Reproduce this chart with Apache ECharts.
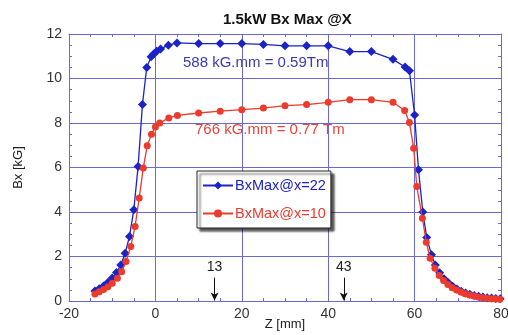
<!DOCTYPE html>
<html>
<head>
<meta charset="utf-8">
<script src="https://cdn.jsdelivr.net/npm/echarts@6/dist/echarts.min.js"></script>
<style>html,body{margin:0;padding:0;background:#fff}#c{width:508px;height:335px}</style>
</head>
<body>
<div id="c"></div>
<script>
// Blue series: BxMax@x=22
var blueZ = [-14,-13,-12,-11,-10,-9,-8,-7,-6,-5,-4,-3,-2,-1,-0.4,0.3,1.2,3,5,10,15,20,25,30,35,40,45,50,55,57.8,58.8,60,60.9,61.9,62.8,63.9,64.8,65.8,66.8,67.8,68.8,69.8,70.8,71.8,72.8,73.8,74.8,75.8,76.8,77.8,78.8,79.8];
var blueB = [0.45,0.55,0.67,0.83,1.03,1.28,1.62,2.15,2.9,4.1,6.05,8.83,10.5,10.98,11.1,11.23,11.33,11.5,11.6,11.57,11.57,11.57,11.53,11.47,11.47,11.47,11.21,11.21,10.86,10.52,10.35,8.36,5.9,4.0,2.85,2.08,1.62,1.27,1.0,0.82,0.66,0.54,0.44,0.36,0.3,0.25,0.21,0.18,0.15,0.13,0.11,0.1];
// Red series: BxMax@x=10
var redZ = [-14,-13,-12,-11,-10,-8.8,-7.8,-6.8,-5.7,-4.7,-3.75,-2.8,-1.9,-0.9,0,1,3.1,5.1,10,15,20,25,30,35,40,45,50,55,57.7,58.8,59.8,60.5,61.8,62.7,63.6,64.7,65.7,66.7,67.7,68.7,69.7,70.7,71.7,72.7,73.7,74.7,75.7,76.7,77.7,78.7,79.7];
var redB = [0.32,0.42,0.52,0.64,0.8,1.02,1.32,1.77,2.45,3.35,4.63,5.98,6.98,7.5,7.82,8.0,8.23,8.34,8.45,8.53,8.6,8.67,8.78,8.83,8.93,9.05,9.05,8.93,8.56,8.02,6.86,5.15,3.72,2.64,1.92,1.47,1.15,0.92,0.74,0.6,0.49,0.4,0.33,0.27,0.22,0.18,0.15,0.12,0.1,0.09,0.08];
var seriesNames = ['BxMax@x=22','BxMax@x=10'];
var arrowZ = [13.7, 43.6];
var arrowLabels = ['13','43'];
var arrowTop = 1.05;

var BLUE = '#1a22c8', RED = '#ec3a2c', GRIDC = '#6a6ad2';
var FONT = 'Liberation Sans, Arial, sans-serif';

function pairs(xs, ys){ return xs.map(function(x,i){return [x, ys[i]];}); }

var chart = echarts.init(document.getElementById('c'), null, {renderer:'canvas'});
function xAxisDef(pos, extra){
  return Object.assign({
    type:'value', min:-20, max:80, interval:20, position:pos,
    axisLine:{show:true, onZero:false, lineStyle:{color:GRIDC, width:1}},
    axisTick:{show:true, inside:true, length:4, lineStyle:{color:GRIDC}},
    minorTick:{show:true, splitNumber:4, length:3, lineStyle:{color:GRIDC}},
    axisLabel:{show:false}, splitLine:{show:false}
  }, extra || {});
}
function yAxisDef(pos, extra){
  return Object.assign({
    type:'value', min:0, max:12, interval:2, position:pos,
    axisLine:{show:true, onZero:false, lineStyle:{color:GRIDC, width:1}},
    axisTick:{show:true, inside:true, length:4, lineStyle:{color:GRIDC}},
    minorTick:{show:true, splitNumber:4, length:3, lineStyle:{color:GRIDC}},
    axisLabel:{show:false}, splitLine:{show:false}
  }, extra || {});
}
var markData = arrowZ.map(function(z,i){
  return [{coord:[z, arrowTop], symbol:'none', label:{show:true, position:'start', formatter:arrowLabels[i], color:'#222', fontSize:14, fontFamily:FONT, distance:3}},
          {coord:[z, 0.02], symbol:'arrow', symbolSize:[6,8]}];
});
chart.setOption({
  animation:false,
  backgroundColor:'#fff',
  title:{text:'1.5kW Bx Max @X', left:218, top:7, textStyle:{fontSize:15, fontWeight:'bold', color:'#111', fontFamily:FONT}},
  grid:{left:69, right:7, top:34, bottom:34, containLabel:false, outerBoundsMode:'none'},
  legend:{
    orient:'vertical', left:197, top:171, padding:[7,5,7,5], itemGap:13,
    itemWidth:30, itemHeight:10,
    backgroundColor:'#fff', borderColor:'#222', borderWidth:1,
    shadowColor:'rgba(0,0,0,0.65)', shadowOffsetX:3, shadowOffsetY:3, shadowBlur:2,
    data:[
      {name:seriesNames[0], textStyle:{color:BLUE}},
      {name:seriesNames[1], textStyle:{color:RED}}
    ],
    textStyle:{fontSize:14.5, fontFamily:FONT, padding:[0,0,0,-3]}
  },
  xAxis:[
    xAxisDef('bottom', {
      name:'Z [mm]', nameLocation:'middle', nameGap:17, nameMoveOverlap:false,
      nameTextStyle:{fontSize:13, color:'#222', fontFamily:FONT},
      axisLabel:{show:true, fontSize:14, color:'#333', fontFamily:FONT, margin:6},
      splitLine:{show:true, lineStyle:{color:GRIDC, width:1}}}),
    xAxisDef('top')
  ],
  yAxis:[
    yAxisDef('left', {
      name:'Bx [kG]', nameLocation:'middle', nameGap:44, nameRotate:90,
      nameTextStyle:{fontSize:13, color:'#222', fontFamily:FONT},
      axisLabel:{show:true, fontSize:14, color:'#333', fontFamily:FONT, margin:7},
      splitLine:{show:true, lineStyle:{color:GRIDC, width:1}}}),
    yAxisDef('right')
  ],
  series:[
    {name:seriesNames[0], type:'line', data:pairs(blueZ, blueB), symbol:'diamond', symbolSize:9,
     itemStyle:{color:BLUE}, lineStyle:{color:BLUE, width:1.3}, z:3},
    {name:seriesNames[1], type:'line', data:pairs(redZ, redB), symbol:'circle', symbolSize:7,
     itemStyle:{color:RED}, lineStyle:{color:RED, width:1.3}, z:4,
     markLine:{silent:true, animation:false, symbol:['none','arrow'], lineStyle:{color:'#111', type:'solid', width:1},
       data:markData}}
  ],
  graphic:[
    {type:'text', left:183, top:55, style:{text:'588 kG.mm = 0.59Tm', fill:'#3a3ab4', font:'15px '+FONT}},
    {type:'text', left:195, top:122, style:{text:'766 kG.mm = 0.77 Tm', fill:'#e8443a', font:'15px '+FONT}}
  ]
});
</script>
</body>
</html>
